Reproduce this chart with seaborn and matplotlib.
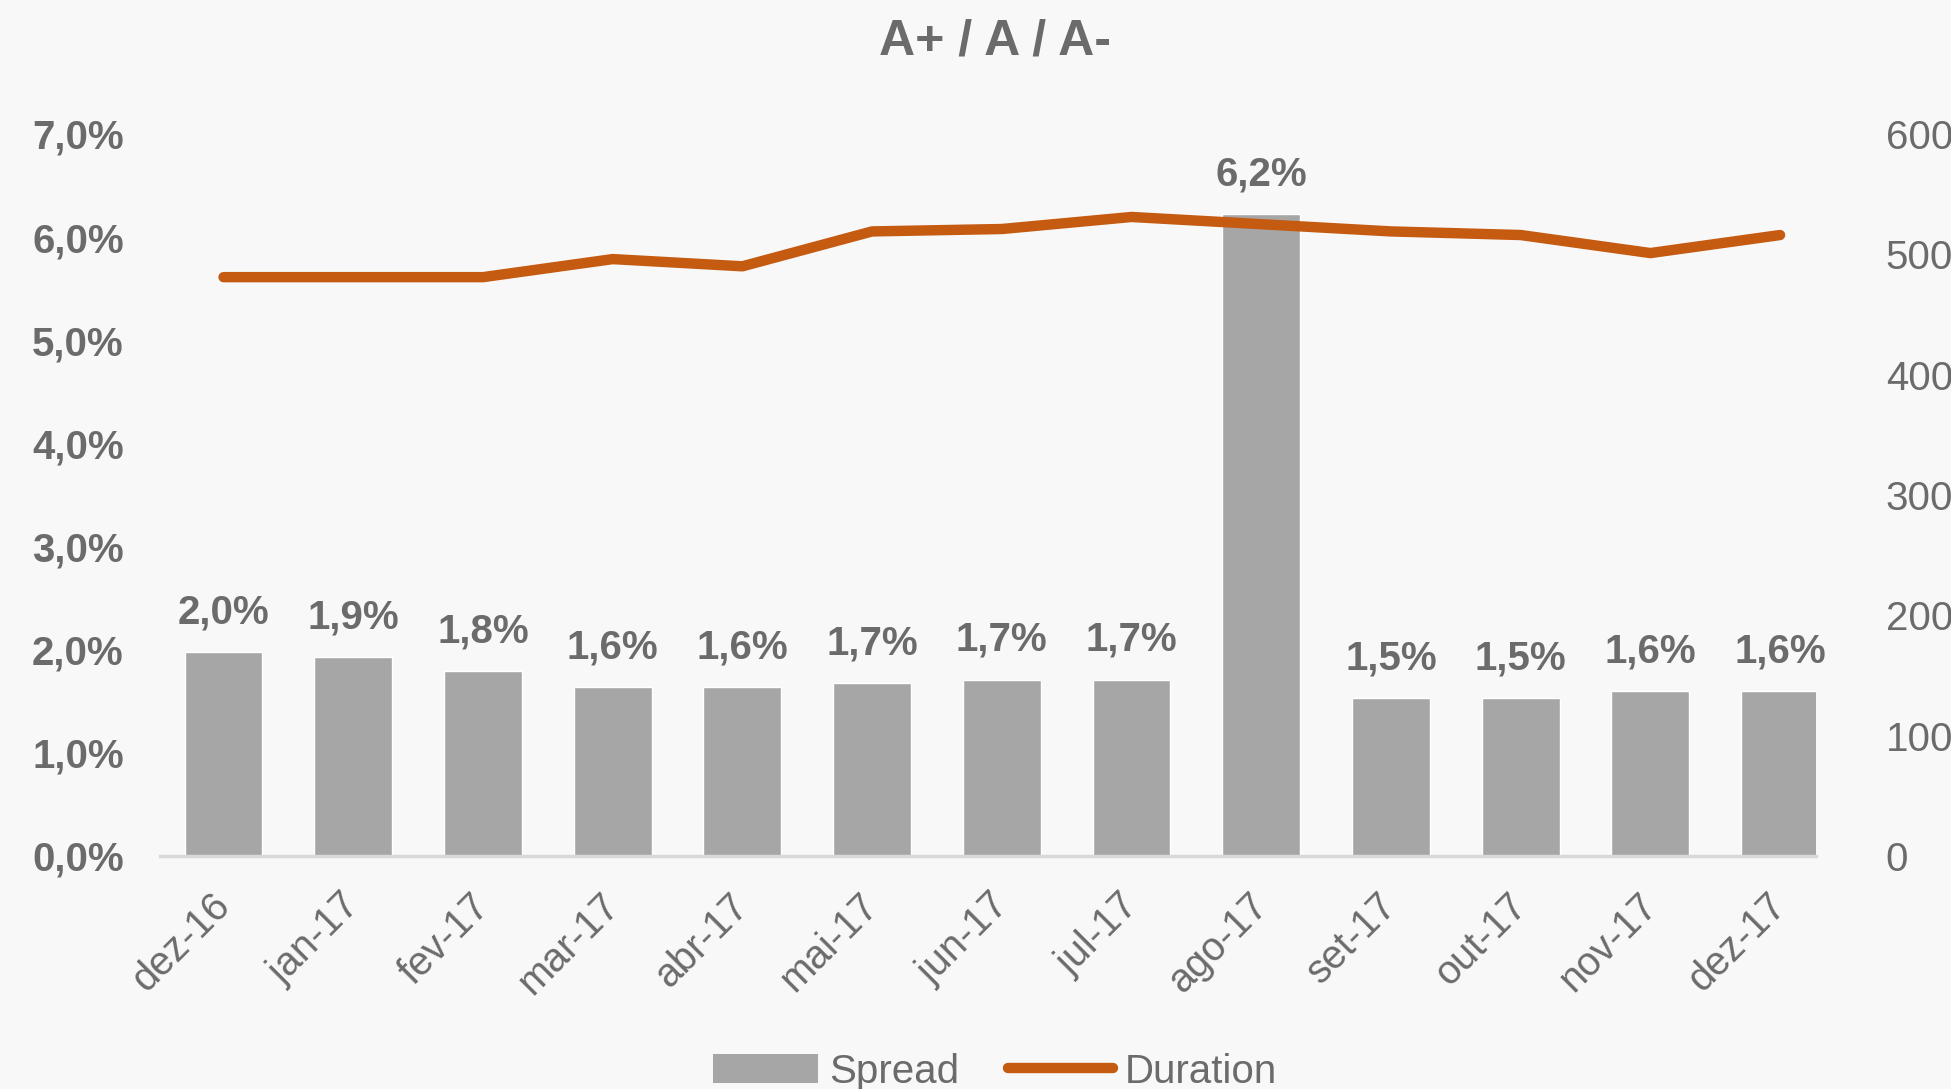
import pandas as pd
import numpy as np
import matplotlib.pyplot as plt
import matplotlib.transforms as mtransforms
import seaborn as sns
from matplotlib.patches import Patch
from matplotlib.lines import Line2D

sns.set_theme(style='white')
plt.rcParams['font.family'] = ['Liberation Sans', 'DejaVu Sans']

months = ['dez-16', 'jan-17', 'fev-17', 'mar-17', 'abr-17', 'mai-17', 'jun-17',
          'jul-17', 'ago-17', 'set-17', 'out-17', 'nov-17', 'dez-17']
spread = [1.98, 1.93, 1.79, 1.64, 1.64, 1.68, 1.71, 1.71, 6.22, 1.53, 1.53, 1.60, 1.60]
duration = [481, 481, 481, 496, 490, 519, 521, 531, 525, 519, 516, 501, 516]
left_ticks = [0, 1, 2, 3, 4, 5, 6, 7]
right_ticks = [0, 100, 200, 300, 400, 500, 600]

bar_color = '#a6a6a6'
line_color = '#c55a11'
text_color = '#6b6b6b'
bg = '#f8f8f8'

df = pd.DataFrame({'Month': months, 'Spread': spread, 'Duration': duration})
df['pos'] = np.arange(len(df))

fig = plt.figure(figsize=(19.51, 10.89), dpi=100, facecolor=bg)
ax = fig.add_axes([0.082, 0.214, 0.849, 0.663])
ax.set_facecolor(bg)

sns.barplot(data=df, x='Month', y='Spread', color=bar_color, width=0.6,
            saturation=1, ax=ax)
ax.set_xlim(-0.49, 12.28)
ax.set_ylim(0, 7)
ax.set_yticks(left_ticks)
ax.set_yticklabels([f'{t:.1f}%'.replace('.', ',') for t in left_ticks],
                   fontsize=29, fontweight='bold', color=text_color)
ax.tick_params(axis='y', length=0, pad=26)
ax.set_xticks(range(len(months)))
ax.set_xticklabels(months, rotation=45, ha='right', rotation_mode='anchor',
                   fontsize=28.5, color=text_color)
ax.tick_params(axis='x', length=0, pad=22)
# nudge month labels slightly left
shift = mtransforms.ScaledTranslation(-0.13, 0, fig.dpi_scale_trans)
for lbl in ax.get_xticklabels():
    lbl.set_transform(lbl.get_transform() + shift)
ax.set_xlabel('')
ax.set_ylabel('')
for s in ['top', 'right', 'left']:
    ax.spines[s].set_visible(False)
ax.spines['bottom'].set_color('#d9d9d9')
ax.spines['bottom'].set_linewidth(2.5)

for p, v in zip(df['pos'], df['Spread']):
    ax.text(p, v + 0.2, f'{v:.1f}%'.replace('.', ','), ha='center', va='bottom',
            fontsize=29, fontweight='bold', color=text_color)

ax2 = ax.twinx()
sns.lineplot(data=df, x='pos', y='Duration', color=line_color, linewidth=7.5,
             solid_capstyle='round', ax=ax2, legend=False)
ax2.set_xlim(-0.49, 12.28)
ax2.set_ylim(0, 600)
ax2.set_yticks(right_ticks)
ax2.set_yticklabels([str(t) for t in right_ticks], fontsize=29, color=text_color)
ax2.tick_params(axis='y', length=0, pad=50)
ax2.set_ylabel('')
ax2.set_xlabel('')
for s in ['top', 'right', 'left', 'bottom']:
    ax2.spines[s].set_visible(False)

fig.text(0.51, 0.962, 'A+ / A / A-', ha='center', va='center', fontsize=36,
         fontweight='bold', color=text_color)

handles = [Patch(facecolor=bar_color, edgecolor='none', label='Spread'),
           Line2D([0], [0], color=line_color, linewidth=7.5, solid_capstyle='round',
                  label='Duration')]
fig.legend(handles=handles, loc='center', bbox_to_anchor=(0.51, 0.016), ncol=2,
           frameon=False, fontsize=29, handlelength=2.6, handletextpad=0.3,
           columnspacing=1.2, labelcolor=text_color)

fig.savefig('out.png', dpi=100, facecolor=bg)
